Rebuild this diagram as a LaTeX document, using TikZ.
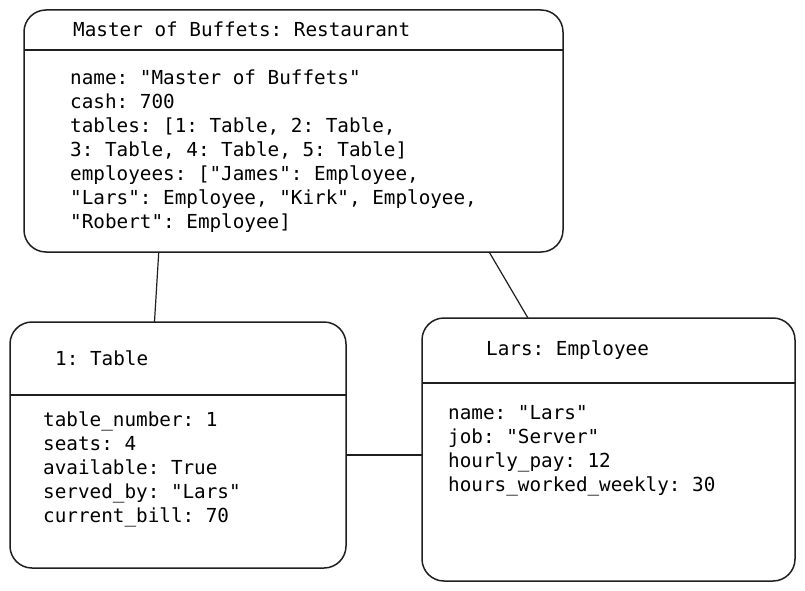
\documentclass[tikz,border=0pt]{standalone}
\usepackage{fontspec}
\setmonofont{DejaVu Sans Mono}
\usetikzlibrary{positioning,calc}
\tikzset{
  objbox/.style={draw=black!88,line width=1.5pt,rounded corners=22pt,outer sep=0pt,inner sep=0pt},
  sepline/.style={draw=black!88,line width=1.8pt},
  link/.style={draw=black!88,line width=1.2pt},
  objtitle/.style={anchor=base west,inner sep=0pt,font=\ttfamily\fontsize{19.3}{24}\selectfont},
  attrs/.style={anchor=north west,inner sep=0pt,align=left,font=\ttfamily\frenchspacing\fontsize{19.3}{24}\selectfont}
}

\begin{document}
\begin{tikzpicture}[x=1pt,y=-1pt]
\useasboundingbox (0,0) rectangle (805,591);
\node[objbox,minimum width=539pt,minimum height=242pt] (rest) at (293.5,131) {};
\node[objbox,minimum width=336pt,minimum height=246pt] (tab) at (178,445) {};
\node[objbox,minimum width=373pt,minimum height=263pt] (emp) at (608.5,449.5) {};
\draw[sepline] ([yshift=-40pt]rest.north west) -- ([yshift=-40pt]rest.north east);
\draw[sepline] ([yshift=-73pt]tab.north west) -- ([yshift=-73pt]tab.north east);
\draw[sepline] ([yshift=-65pt]emp.north west) -- ([yshift=-65pt]emp.north east);
\node[objtitle] (restname) at (73,37) {Master of Buffets: Restaurant};
\node[objtitle] (tabname) at (55,365) {1: Table};
\node[objtitle] (empname) at (486,355) {Lars: Employee};
\node[attrs] (restattrs) at (70,70) {name: "Master of Buffets"\\
cash: 700\\
tables: [1: Table, 2: Table,\\
3: Table, 4: Table, 5: Table]\\
employees: ["James": Employee,\\
"Lars": Employee, "Kirk", Employee,\\
"Robert": Employee]};
\node[attrs] (tabattrs) at (43,412) {table\_number: 1\\
seats: 4\\
available: True\\
served\_by: "Lars"\\
current\_bill: 70};
\node[attrs] (empattrs) at (448,405) {name: "Lars"\\
job: "Server"\\
hourly\_pay: 12\\
hours\_worked\_weekly: 30};
\draw[link] ($(rest.south west)!0.25!(rest.south east)$) -- ($(tab.north west)!0.43!(tab.north east)$);
\draw[link] ($(rest.south west)!0.863!(rest.south east)$) -- ($(emp.north west)!0.284!(emp.north east)$);
\draw[link] ([yshift=-10pt]tab.east) -- ([yshift=-10pt]tab.east -| emp.west);
\end{tikzpicture}
\end{document}
